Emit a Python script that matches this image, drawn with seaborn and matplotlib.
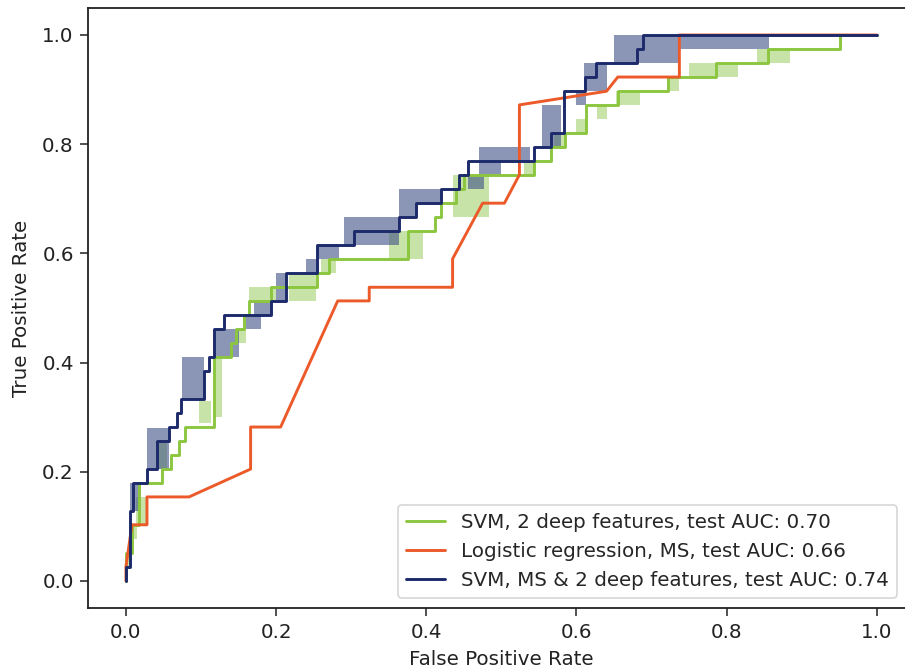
import matplotlib
matplotlib.use("Agg")
import matplotlib.pyplot as plt
import seaborn as sns
import numpy as np
import pandas as pd

# ---------------- data ----------------
labels = ["SVM, 2 deep features, test AUC: 0.70",
          "Logistic regression, MS, test AUC: 0.66",
          "SVM, MS & 2 deep features, test AUC: 0.74"]

# SVM, 2 deep features (step ROC corners)
green_fpr = [0, 0, 0.008, 0.008, 0.017, 0.017, 0.048, 0.048, 0.06, 0.06, 0.07, 0.07,
             0.078, 0.078, 0.117, 0.117, 0.14, 0.14, 0.146, 0.146, 0.157, 0.157,
             0.164, 0.164, 0.193, 0.193, 0.255, 0.255, 0.271, 0.271, 0.375, 0.375,
             0.411, 0.411, 0.42, 0.42, 0.44, 0.44, 0.45, 0.45, 0.544, 0.544,
             0.566, 0.566, 0.585, 0.585, 0.613, 0.613, 0.655, 0.655, 0.722, 0.722,
             0.786, 0.786, 0.855, 0.855, 0.951, 0.951, 1.0]
green_tpr = [0, 0.051, 0.051, 0.103, 0.103, 0.179, 0.179, 0.205, 0.205, 0.231, 0.231, 0.256,
             0.256, 0.282, 0.282, 0.410, 0.410, 0.436, 0.436, 0.462, 0.462, 0.487,
             0.487, 0.513, 0.513, 0.538, 0.538, 0.564, 0.564, 0.590, 0.590, 0.641,
             0.641, 0.667, 0.667, 0.692, 0.692, 0.718, 0.718, 0.744, 0.744, 0.769,
             0.769, 0.795, 0.795, 0.821, 0.821, 0.872, 0.872, 0.897, 0.897, 0.923,
             0.923, 0.949, 0.949, 0.974, 0.974, 1.0, 1.0]

# Logistic regression, MS
orange_fpr = [0, 0, 0.008, 0.028, 0.028, 0.084, 0.166, 0.166, 0.206, 0.282, 0.324, 0.324,
              0.435, 0.435, 0.475, 0.504, 0.524, 0.524, 0.64, 0.655, 0.737, 0.737, 1.0]
orange_tpr = [0, 0.026, 0.103, 0.103, 0.154, 0.154, 0.205, 0.282, 0.282, 0.513, 0.513, 0.538,
              0.538, 0.590, 0.692, 0.692, 0.744, 0.872, 0.897, 0.923, 0.923, 1.0, 1.0]

# SVM, MS & 2 deep features
navy_fpr = [0, 0, 0.006, 0.006, 0.009, 0.009, 0.028, 0.028, 0.042, 0.042, 0.057, 0.057,
            0.068, 0.068, 0.073, 0.073, 0.104, 0.104, 0.111, 0.111, 0.117, 0.117,
            0.131, 0.131, 0.193, 0.193, 0.213, 0.213, 0.255, 0.255, 0.304, 0.304,
            0.364, 0.364, 0.386, 0.386, 0.42, 0.42, 0.444, 0.444, 0.455, 0.455,
            0.544, 0.544, 0.566, 0.566, 0.584, 0.584, 0.611, 0.611, 0.626, 0.626,
            0.68, 0.68, 0.688, 0.688, 1.0]
navy_tpr = [0, 0.026, 0.026, 0.128, 0.128, 0.179, 0.179, 0.205, 0.205, 0.256, 0.256, 0.282,
            0.282, 0.308, 0.308, 0.333, 0.333, 0.385, 0.385, 0.410, 0.410, 0.462,
            0.462, 0.487, 0.487, 0.513, 0.513, 0.564, 0.564, 0.615, 0.615, 0.641,
            0.641, 0.667, 0.667, 0.692, 0.692, 0.718, 0.718, 0.744, 0.744, 0.769,
            0.769, 0.795, 0.795, 0.821, 0.821, 0.897, 0.897, 0.923, 0.923, 0.949,
            0.949, 0.974, 0.974, 1.0, 1.0]

# variability bands: fpr start, fpr end, tpr low, tpr high
green_band_x0 = [0.0, 0.008, 0.014, 0.04, 0.097, 0.117, 0.146, 0.164, 0.217, 0.26, 0.35,
                 0.435, 0.53, 0.57, 0.60, 0.627, 0.653, 0.722, 0.75, 0.84]
green_band_x1 = [0.004, 0.015, 0.027, 0.055, 0.113, 0.128, 0.16, 0.2, 0.253, 0.28, 0.395,
                 0.484, 0.545, 0.585, 0.613, 0.64, 0.684, 0.737, 0.815, 0.884]
green_band_lo = [0.026, 0.077, 0.103, 0.205, 0.29, 0.30, 0.436, 0.513, 0.513, 0.564, 0.590,
                 0.667, 0.744, 0.795, 0.821, 0.846, 0.872, 0.897, 0.923, 0.949]
green_band_hi = [0.051, 0.103, 0.154, 0.256, 0.33, 0.41, 0.462, 0.538, 0.564, 0.590, 0.641,
                 0.744, 0.769, 0.821, 0.846, 0.872, 0.897, 0.923, 0.949, 0.974]

navy_band_x0 = [0.006, 0.028, 0.075, 0.117, 0.16, 0.17, 0.2, 0.24, 0.255, 0.29, 0.364,
                0.386, 0.455, 0.47, 0.47, 0.554, 0.60, 0.61, 0.65, 0.737]
navy_band_x1 = [0.02, 0.057, 0.104, 0.15, 0.18, 0.193, 0.213, 0.255, 0.284, 0.364, 0.386,
                0.42, 0.477, 0.50, 0.538, 0.58, 0.613, 0.64, 0.737, 0.857]
navy_band_lo = [0.128, 0.205, 0.333, 0.410, 0.462, 0.487, 0.513, 0.564, 0.590, 0.615, 0.667,
                0.692, 0.718, 0.744, 0.769, 0.795, 0.872, 0.897, 0.949, 0.974]
navy_band_hi = [0.18, 0.28, 0.41, 0.462, 0.487, 0.513, 0.564, 0.590, 0.615, 0.667, 0.718,
                0.718, 0.744, 0.769, 0.795, 0.872, 0.897, 0.949, 1.0, 1.0]

xticks = [0.0, 0.2, 0.4, 0.6, 0.8, 1.0]
yticks = [0.0, 0.2, 0.4, 0.6, 0.8, 1.0]

# ---------------- style ----------------
sns.set_style("ticks")
plt.rcParams["font.family"] = ["DejaVu Sans"]
FS = 14.3

c_green = "#8cc63f"
c_orange = "#ec5a2a"
c_navy = "#1c2a6b"
c_green_band = "#9ccc62"
c_navy_band = "#3e5088"

fig = plt.figure(figsize=(9.05, 6.70), dpi=100)
ax = fig.add_axes([88.4 / 905, 61.7 / 670, 826.0 / 905, 600.6 / 670])

for x0, x1, lo, hi in zip(green_band_x0, green_band_x1, green_band_lo, green_band_hi):
    ax.fill_between([x0, x1], [lo, lo], [hi, hi], color=c_green_band, alpha=0.55, lw=0)
for x0, x1, lo, hi in zip(navy_band_x0, navy_band_x1, navy_band_lo, navy_band_hi):
    ax.fill_between([x0, x1], [lo, lo], [hi, hi], color=c_navy_band, alpha=0.6, lw=0)

df_g = pd.DataFrame({"fpr": green_fpr, "tpr": green_tpr})
df_o = pd.DataFrame({"fpr": orange_fpr, "tpr": orange_tpr})
df_n = pd.DataFrame({"fpr": navy_fpr, "tpr": navy_tpr})

sns.lineplot(data=df_g, x="fpr", y="tpr", sort=False, estimator=None, color=c_green,
             lw=2.1, label=labels[0], ax=ax)
sns.lineplot(data=df_o, x="fpr", y="tpr", sort=False, estimator=None, color=c_orange,
             lw=2.1, label=labels[1], ax=ax)
sns.lineplot(data=df_n, x="fpr", y="tpr", sort=False, estimator=None, color=c_navy,
             lw=2.1, label=labels[2], ax=ax)

ax.set_xlim(-0.05, 1.05)
ax.set_ylim(-0.05, 1.05)
ax.set_xticks(xticks)
ax.set_yticks(yticks)
ax.set_xticklabels([f"{v:.1f}" for v in xticks])
ax.set_yticklabels([f"{v:.1f}" for v in yticks])
ax.tick_params(axis="both", labelsize=FS, length=5.5, width=1.1, pad=5,
               colors="#222222", direction="out")
for s in ax.spines.values():
    s.set_linewidth(1.3)
    s.set_color("#222222")
    s.set_visible(True)

ax.set_xlabel("False Positive Rate", fontsize=FS, labelpad=6, color="#222222")
ax.set_ylabel("True Positive Rate", fontsize=FS, labelpad=8, color="#222222")

leg = ax.legend(loc="lower right", bbox_to_anchor=(897 / 905, 72 / 670),
                bbox_transform=fig.transFigure, borderaxespad=0, frameon=True,
                fontsize=FS, handlelength=2.0, fancybox=True)
leg.get_frame().set_edgecolor("#cccccc")
leg.get_frame().set_linewidth(1.2)
for line in leg.get_lines():
    line.set_linewidth(2.1)

fig.savefig("out.png", dpi=100)
